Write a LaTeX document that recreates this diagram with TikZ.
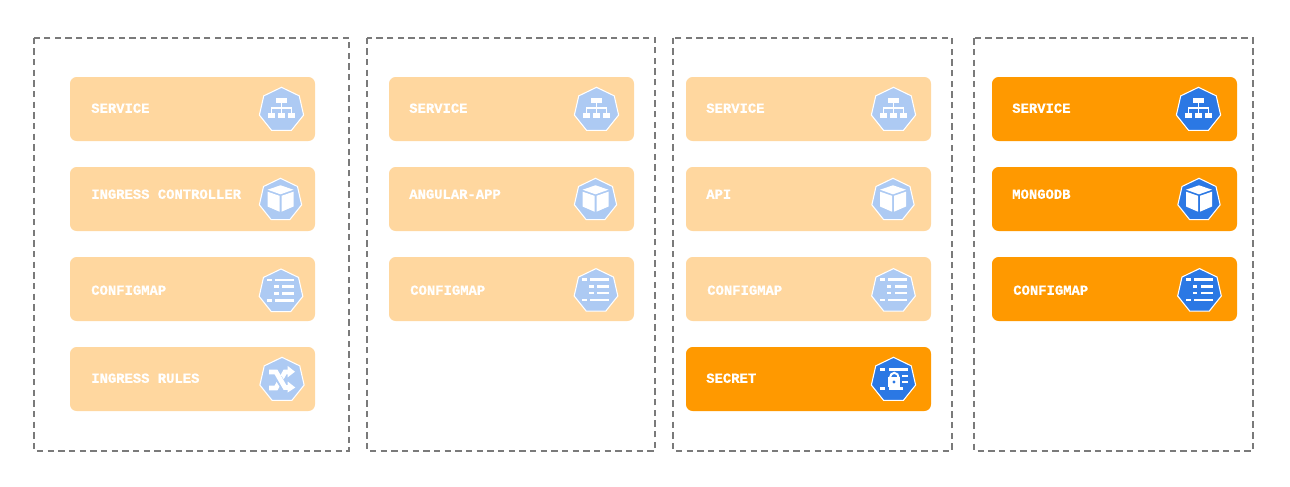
\documentclass[tikz,border=0pt]{standalone}
\usepackage{fontspec}
\newfontfamily\cardfont[RawFeature={embolden=0.8}]{Liberation Mono Bold}
\usetikzlibrary{positioning}
\definecolor{gridline}{HTML}{7A7A7A}
\definecolor{tier}{HTML}{FF9900}
\definecolor{tierpale}{HTML}{FFD79F}
\definecolor{kube}{HTML}{2B78E4}
\definecolor{kubepale}{HTML}{ADCAF3}
\newcommand{\heptagon}[1]{(-90:#1) -- (-38.57:#1) -- (12.86:#1) -- (64.29:#1) -- (115.71:#1) -- (167.14:#1) -- (218.57:#1) -- cycle}
\tikzset{
  tierbox/.style={draw=gridline, dash pattern=on 4.8pt off 3.2pt, line width=1.3pt},
  card/.style={rectangle, rounded corners=5pt, minimum width=183.75pt, minimum height=48pt, inner sep=0pt, fill=tier},
  palecard/.style={card, fill=tierpale},
  cardtext/.style={anchor=west, yshift=0.6pt, inner sep=0pt, text=white, font=\cardfont\fontsize{10.4}{12}\selectfont},
  pics/svcicon/.style={code={
    \draw[white, fill=#1, line width=0.8pt] \heptagon{22.7};
    \fill[white] (-5.8,-11.7) rectangle (5.6,-7);
    \fill[white] (-13.5,3.3) rectangle (-6.5,8.3);
    \fill[white] (-3.3,3.3) rectangle (3.5,8.3);
    \fill[white] (6.8,3.3) rectangle (13.8,8.3);
    \draw[white, line width=1pt] (0,-7) -- (0,3.3) (-10,3.3) -- (-10,-2) -- (10.3,-2) -- (10.3,3.3);
  }},
  pics/podicon/.style={code={
    \draw[white, fill=#1, line width=0.8pt] \heptagon{21.7};
    \fill[white] (0,-14.7) -- (13,-10.3) -- (0,-5.7) -- (-13,-10.3) -- cycle;
    \fill[white] (-13,-8.3) -- (-1,-4.2) -- (-1,11.7) -- (-13,6.5) -- cycle;
    \fill[white] (13,-8.3) -- (1,-4.2) -- (1,11.7) -- (13,6.5) -- cycle;
  }},
  pics/mapicon/.style={code={
    \draw[white, fill=#1, line width=0.8pt] \heptagon{22.4};
    \fill[white] (-13.7,-12.8) rectangle (-9,-10);
    \fill[white] (-5.7,-12.8) rectangle (13.3,-10);
    \fill[white] (-7,-6.1) rectangle (-2.3,-3.3);
    \fill[white] (1,-6.1) rectangle (13.3,-3.3);
    \fill[white] (-7,0.6) rectangle (-2.3,3.4);
    \fill[white] (1,0.6) rectangle (13.3,3.4);
    \fill[white] (-13.7,7.6) rectangle (-9,10.4);
    \fill[white] (-5.7,7.6) rectangle (13.3,10.4);
  }},
  pics/ruleicon/.style={code={
    \draw[white, fill=#1, line width=0.8pt] \heptagon{22.7};
    \draw[white, line width=3.6pt] (-13,8) -- (-6,8) -- (3,-8) -- (7,-8);
    \draw[#1, line width=5.4pt] (-3.5,-2) -- (1.5,6);
    \draw[white, line width=3.6pt] (-13,-8) -- (-6,-8) -- (3,7.5) -- (7,7.5);
    \fill[white] (5.7,-14) -- (13,-8.3) -- (5.7,-2.7) -- cycle;
    \fill[white] (5.7,1.5) -- (13.3,7.5) -- (5.7,12.5) -- cycle;
  }},
  pics/keyicon/.style={code={
    \draw[white, fill=#1, line width=0.8pt] \heptagon{22.7};
    \fill[white] (-13.3,-12.1) rectangle (-8.3,-9.3);
    \fill[white] (-5,-12.1) rectangle (14,-9.3);
    \fill[white] (8.3,-5.4) rectangle (14,-2.6);
    \fill[white] (8.3,0.6) rectangle (14,3.4);
    \fill[white] (-13.3,7.1) rectangle (-8.3,9.9);
    \fill[white] (-5,7.1) rectangle (9,9.9);
    \draw[white, line width=1.5pt] (-3.6,-2) arc[start angle=180, end angle=360, x radius=4.4, y radius=5.2];
    \fill[white] (-5.5,-2.7) rectangle (6.2,6.7);
    \fill[#1] (0.4,2) circle (1.6);
  }}
}

\begin{document}
\begin{tikzpicture}[x=0.75pt,y=-0.75pt,node distance=67.5pt]
  \useasboundingbox (0,0) rectangle (1290,486);

  \draw[tierbox] (34.3,37.7) rectangle (349,451);
  \draw[tierbox] (367.3,37.7) rectangle (655,451);
  \draw[tierbox] (673.3,37.7) rectangle (952,451);
  \draw[tierbox] (974.2,38.3) rectangle (1253,451);

  % ingress
  \node[palecard] (svcA)                    at (192.5,109) {};
  \node[palecard] (ctrlA) [below of=svcA]   {};
  \node[palecard] (mapA)  [below of=ctrlA]  {};
  \node[palecard] (ruleA) [below of=mapA]   {};
  \node[cardtext] (svcAtext)  at (91,109) {SERVICE};
  \node[cardtext] (ctrlAtext) at (91,195) {INGRESS CONTROLLER};
  \node[cardtext] (mapAtext)  at (91,291) {CONFIGMAP};
  \node[cardtext] (ruleAtext) at (91,379) {INGRESS RULES};
  \pic at (281.5,110) {svcicon=kubepale};
  \pic at (280.5,200) {podicon=kubepale};
  \pic at (281,291.4) {mapicon=kubepale};
  \pic at (282,380)   {ruleicon=kubepale};

  % angular
  \node[palecard] (svcB)                    at (511.5,109) {};
  \node[palecard] (appB)  [below of=svcB]   {};
  \node[palecard] (mapB)  [below of=appB]   {};
  \node[cardtext] (svcBtext) at (409,109) {SERVICE};
  \node[cardtext] (appBtext) at (409,195) {ANGULAR-APP};
  \node[cardtext] (mapBtext) at (410,291) {CONFIGMAP};
  \pic at (596.5,110) {svcicon=kubepale};
  \pic at (595.5,200) {podicon=kubepale};
  \pic at (596,291)   {mapicon=kubepale};

  % api
  \node[palecard] (svcC)                    at (808.5,109) {};
  \node[palecard] (apiC)  [below of=svcC]   {};
  \node[palecard] (mapC)  [below of=apiC]   {};
  \node[card]     (keyC)  [below of=mapC]   {};
  \node[cardtext] (svcCtext) at (706,109) {SERVICE};
  \node[cardtext] (apiCtext) at (706,195) {API};
  \node[cardtext] (mapCtext) at (707,291) {CONFIGMAP};
  \node[cardtext] (keyCtext) at (706,379) {SECRET};
  \pic at (893.5,110) {svcicon=kubepale};
  \pic at (893,200)   {podicon=kubepale};
  \pic at (893.5,291) {mapicon=kubepale};
  \pic at (893.5,380) {keyicon=kube};

  % database
  \node[card] (svcD)                    at (1114.5,109) {};
  \node[card] (dbD)   [below of=svcD]   {};
  \node[card] (mapD)  [below of=dbD]    {};
  \node[cardtext] (svcDtext) at (1012,109) {SERVICE};
  \node[cardtext] (dbDtext)  at (1012,195) {MONGODB};
  \node[cardtext] (mapDtext) at (1013,291) {CONFIGMAP};
  \pic at (1198.5,110) {svcicon=kube};
  \pic at (1199,200)   {podicon=kube};
  \pic at (1199.5,291) {mapicon=kube};
\end{tikzpicture}
\end{document}
